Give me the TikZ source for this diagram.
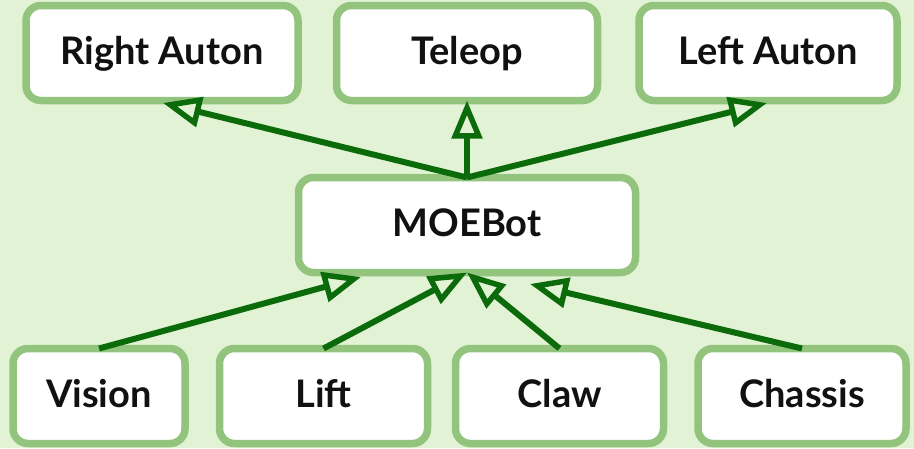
\documentclass[tikz,border=0pt]{standalone}
\usepackage{fontspec}
\setmainfont{Lato}
\usetikzlibrary{arrows.meta}
\definecolor{bgc}{HTML}{E2F3D5}
\definecolor{bordc}{HTML}{93C47D}
\definecolor{arrc}{HTML}{0B6B0B}
\definecolor{txtc}{HTML}{111111}
\tikzset{
  box/.style={draw=bordc, line width=7.5pt, fill=white, rounded corners=15pt,
    inner sep=0pt, outer sep=0pt, minimum height=95pt,
    text height=28pt, text depth=6pt,
    font=\fontsize{38}{44}\selectfont\bfseries, text=txtc},
  link/.style={draw=arrc, line width=6pt,
    arrows={-Triangle[open, fill=bgc, length=38pt, width=30pt, line width=5.5pt]}}
}
\begin{document}
\begin{tikzpicture}[x=1pt,y=-1pt]
\fill[bgc] (0,0) rectangle (914,448);
\useasboundingbox (0,0) rectangle (914,448);
\node[box, minimum width=272pt] (ra) at (162,53) {Right Auton};
\node[box, minimum width=261pt] (tele) at (467,53) {Teleop};
\node[box, minimum width=258pt] (la) at (768,53) {Left Auton};
\node[box, minimum width=337pt] (moe) at (467,225) {MOEBot};
\node[box, minimum width=172pt] (vis) at (99,396) {Vision};
\node[box, minimum width=208pt] (lift) at (323.5,396) {Lift};
\node[box, minimum width=208pt] (claw) at (559.5,396) {Claw};
\node[box, minimum width=208pt] (chas) at (802,396) {Chassis};
\coordinate (tra) at (163,103);
\coordinate (tla) at (767,103);
\coordinate (bvis) at (361,277);
\coordinate (bchas) at (530,284);
\draw[link] (moe.north) -- (tra);
\draw[link] (moe.north) -- (tele.south);
\draw[link] (moe.north) -- (tla);
\draw[link] (vis.north) -- (bvis);
\draw[link] (lift.north) -- (moe.south);
\draw[link] (claw.north) -- (moe.south);
\draw[link] (chas.north) -- (bchas);
\end{tikzpicture}
\end{document}
